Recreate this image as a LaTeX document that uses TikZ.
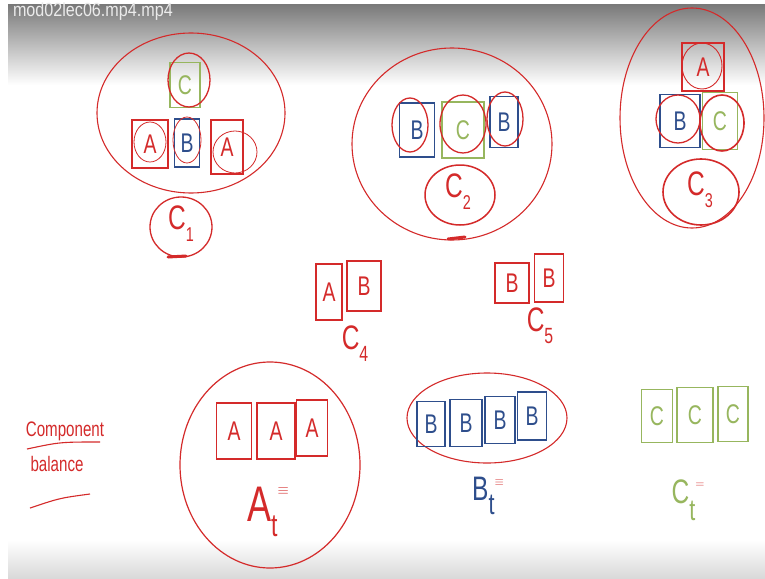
\documentclass[tikz,border=0pt]{standalone}
\usepackage{fontspec}
\setmainfont{Liberation Sans}
\usetikzlibrary{shapes.geometric}
\definecolor{mred}{HTML}{D42A2A}
\definecolor{mblue}{HTML}{2E4E8C}
\definecolor{mgreen}{HTML}{97B65E}
\newcommand{\nar}[1]{\scalebox{0.72}[1]{#1}}
\begin{document}
\begin{tikzpicture}[x=1pt,y=-1pt,
  tile/.style={draw,line width=1.2pt,inner sep=0pt,font=\fontsize{27}{27}\selectfont},
  rtile/.style={tile,draw=mred,text=mred},
  btile/.style={tile,draw=mblue,text=mblue},
  gtile/.style={tile,draw=mgreen,text=mgreen},
  lab/.style={text=mred,font=\fontsize{34}{34}\selectfont},
  loop/.style={draw=mred,line width=1.3pt}]
\useasboundingbox (0,0) rectangle (765,578);
\fill[white] (0,0) rectangle (765,578);
\shade[top color=black!52,bottom color=white] (8,5) rectangle (765,85);
\shade[top color=white,bottom color=black!15] (8,540) rectangle (765,578);
\node[anchor=west,text=white!92!black,font=\fontsize{19}{19}\selectfont,xscale=0.85] (title) at (10,12) {mod02lec06.mp4.mp4};

% ---------- group 1 ----------
\draw[loop,line width=1.1pt] (191,113) ellipse [x radius=94,y radius=80];
\node[gtile,minimum width=30pt,minimum height=45pt] (g1c) at (185,85) {\nar{C}};
\node[rtile,minimum width=36pt,minimum height=48pt] (g1a1) at (150,144) {\nar{A}};
\node[btile,minimum width=25pt,minimum height=48pt] (g1b) at (187,143) {\nar{B}};
\node[rtile,minimum width=32pt,minimum height=54pt] (g1a2) at (227,147) {\nar{A}};
\draw[loop] (189,80) ellipse [x radius=21,y radius=27];
\draw[loop,line width=0.8pt] (150,142) ellipse [x radius=16,y radius=20];
\draw[loop,line width=0.8pt] (187,140) ellipse [x radius=14,y radius=23];
\draw[loop,line width=0.8pt] (235,152) ellipse [x radius=22,y radius=21];
\draw[loop] (181,227) ellipse [x radius=31,y radius=30];
\node[lab] (c1) at (181,224) {\nar{C}\raisebox{-0.35em}{\fontsize{20}{20}\selectfont\nar{1}}};
\draw[mred,line width=3pt,line cap=round] (168,257) -- (186,256);

% ---------- group 2 ----------
\draw[loop,line width=1.1pt] (452,144) ellipse [x radius=100,y radius=96];
\node[btile,minimum width=35pt,minimum height=54pt] (g2b1) at (417,130) {\nar{B}};
\node[gtile,minimum width=42pt,minimum height=56pt] (g2c) at (463,130) {\nar{C}};
\node[btile,minimum width=28pt,minimum height=51pt] (g2b2) at (504,122) {\nar{B}};
\draw[loop] (410,125) ellipse [x radius=18,y radius=27];
\draw[loop] (463,124) ellipse [x radius=23,y radius=29];
\draw[loop] (505,119) ellipse [x radius=18,y radius=27];
\draw[loop,line width=1.5pt] (460,195) ellipse [x radius=35,y radius=30];
\node[lab] (c2) at (458,192) {\nar{C}\raisebox{-0.35em}{\fontsize{20}{20}\selectfont\nar{2}}};
\draw[mred,line width=3pt,line cap=round] (448,239) -- (465,237);

% ---------- group 3 ----------
\draw[loop,line width=1.1pt] (692,118) ellipse [x radius=72,y radius=110];
\node[rtile,minimum width=42pt,minimum height=48pt] (g3a) at (703,67) {\nar{A}};
\node[btile,minimum width=40pt,minimum height=53pt] (g3b) at (680,121) {\nar{B}};
\node[gtile,minimum width=35pt,minimum height=57pt] (g3c) at (720,121) {\nar{C}};
\draw[loop,line width=0.9pt] (702,66) ellipse [x radius=20,y radius=23];
\draw[loop] (678,119) ellipse [x radius=22,y radius=24];
\draw[loop,line width=1.6pt] (722,123) ellipse [x radius=22,y radius=28];
\draw[loop,line width=1.6pt] (701,192) ellipse [x radius=38,y radius=33];
\node[lab] (c3) at (700,190) {\nar{C}\raisebox{-0.35em}{\fontsize{20}{20}\selectfont\nar{3}}};

% ---------- C4 and C5 ----------
\node[rtile,minimum width=26pt,minimum height=56pt] (c4a) at (329,292) {\nar{A}};
\node[rtile,minimum width=34pt,minimum height=50pt] (c4b) at (364,286) {\nar{B}};
\node[lab] (c4) at (355,344) {\nar{C}\raisebox{-0.35em}{\fontsize{22}{22}\selectfont\nar{4}}};
\node[rtile,minimum width=34pt,minimum height=40pt] (c5b1) at (512,283) {\nar{B}};
\node[rtile,minimum width=29pt,minimum height=48pt] (c5b2) at (549,278) {\nar{B}};
\node[lab] (c5) at (540,326) {\nar{C}\raisebox{-0.35em}{\fontsize{22}{22}\selectfont\nar{5}}};

% ---------- component balance ----------
\node[text=mred,font=\fontsize{21}{21}\selectfont,xscale=0.72] (comp) at (65,431) {Component};
\node[text=mred,font=\fontsize{21}{21}\selectfont,xscale=0.72] (bal) at (57,464) {balance};
\coordinate (u1a) at (27,449); \coordinate (u1b) at (100,442);
\coordinate (u2a) at (30,508); \coordinate (u2b) at (90,494);
\draw[mred,line width=1.1pt] (u1a) .. controls (60,442) .. (u1b);
\draw[mred,line width=1.1pt] (u2a) .. controls (60,498) .. (u2b);

% ---------- A total ----------
\draw[loop,line width=1.2pt] (270,465) ellipse [x radius=90,y radius=103];
\node[rtile,minimum width=35pt,minimum height=56pt] (ta1) at (234,431) {\nar{A}};
\node[rtile,minimum width=38pt,minimum height=56pt] (ta2) at (276,431) {\nar{A}};
\node[rtile,minimum width=31pt,minimum height=56pt] (ta3) at (312,428) {\nar{A}};
\node[text=mred,font=\fontsize{50}{50}\selectfont] (at) at (268,512) {\nar{A}\raisebox{-0.3em}{\fontsize{32}{32}\selectfont\nar{t}}\raisebox{0.55em}{\fontsize{14}{14}\selectfont$\equiv$}};

% ---------- B total ----------
\draw[loop,line width=1.1pt] (487,418) ellipse [x radius=80,y radius=45];
\node[btile,minimum width=28pt,minimum height=45pt] (tb1) at (431,424) {\nar{B}};
\node[btile,minimum width=32pt,minimum height=47pt] (tb2) at (466,423) {\nar{B}};
\node[btile,minimum width=30pt,minimum height=47pt] (tb3) at (500,420) {\nar{B}};
\node[btile,minimum width=29pt,minimum height=48pt] (tb4) at (532,416) {\nar{B}};
\node[text=mblue,font=\fontsize{34}{34}\selectfont] (bt) at (488,496) {\nar{B}\raisebox{-0.4em}{\fontsize{30}{30}\selectfont\nar{t}}\raisebox{0.45em}{\fontsize{12}{12}\selectfont\color{mred}$\equiv$}};

% ---------- C total ----------
\node[gtile,minimum width=31pt,minimum height=53pt] (tc1) at (657,416) {\nar{C}};
\node[gtile,minimum width=36pt,minimum height=55pt] (tc2) at (695,415) {\nar{C}};
\node[gtile,minimum width=30pt,minimum height=55pt] (tc3) at (733,414) {\nar{C}};
\node[text=mgreen,font=\fontsize{34}{34}\selectfont] (ct) at (688,500) {\nar{C}\raisebox{-0.5em}{\fontsize{30}{30}\selectfont\nar{t}}\raisebox{0.45em}{\fontsize{12}{12}\selectfont\color{mred}$=$}};
\end{tikzpicture}
\end{document}
